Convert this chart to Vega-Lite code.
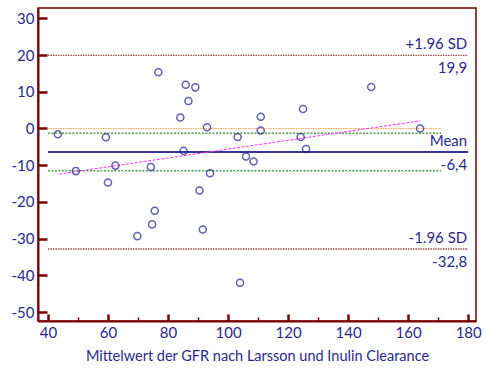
{
  "$schema": "https://vega.github.io/schema/vega-lite/v6.json",
  "width": 438,
  "height": 313,
  "autosize": "none",
  "padding": {"left": 38, "top": 8, "right": 10, "bottom": 47},
  "background": "white",
  "config": {
    "view": {"stroke": "#7a0000", "strokeWidth": 1.5},
    "font": "Lato",
    "axis": {
      "domainColor": "#7a0000",
      "domainWidth": 2,
      "tickColor": "#7a0000",
      "labelColor": "#2a2a8a",
      "labelFont": "Lato",
      "labelFontSize": 15,
      "labelOverlap": false,
      "titleColor": "#2a2a8a",
      "titleFont": "Lato",
      "titleFontSize": 14.5,
      "titleFontWeight": "normal",
      "grid": false,
      "zindex": 1
    },
    "axisY": {
      "values": [-50, -45, -40, -35, -30, -25, -20, -15, -10, -5, 0, 5, 10, 15, 20, 25, 30],
      "tickSize": {"expr": "datum.value % 10 === 0 ? -9 : -4"},
      "tickWidth": {"expr": "datum.value % 10 === 0 ? 2.5 : 1.5"},
      "labelPadding": 13,
      "labelExpr": "datum.value % 10 === 0 ? toString(datum.value) : ''",
      "title": null
    },
    "axisX": {
      "values": [40, 50, 60, 70, 80, 90, 100, 110, 120, 130, 140, 150, 160, 170, 180],
      "labelExpr": "datum.value % 20 === 0 ? toString(datum.value) : ''",
      "tickSize": {"expr": "datum.value % 20 === 0 ? -7 : -4"},
      "tickWidth": {"expr": "datum.value % 20 === 0 ? 2.5 : 1.5"},
      "labelPadding": 11,
      "titlePadding": 6
    }
  },
  "layer": [
    {
      "data": {"values": [{"label": "+1.96 SD", "y": 19.9, "x1": 40, "x2": 180}, {"label": "-1.96 SD", "y": -32.8, "x1": 40, "x2": 180}]},
      "mark": {"type": "rule", "color": "#a04848", "strokeWidth": 1.3, "strokeDash": [1.5, 1]},
      "encoding": {
        "x": {"field": "x1", "type": "quantitative",
          "scale": {"domain": [36.7, 182.6], "nice": false, "zero": false},
          "title": "Mittelwert der GFR nach Larsson und Inulin Clearance"},
        "x2": {"field": "x2"},
        "y": {"field": "y", "type": "quantitative",
          "scale": {"domain": [-52.4, 32.8], "nice": false, "zero": false}, "title": null}
      }
    },
    {
      "data": {"values": [{"y": 0, "x1": 40, "x2": 171}]},
      "mark": {"type": "rule", "color": "#ffa050", "strokeWidth": 1.2, "strokeDash": [1.5, 1]},
      "encoding": {"x": {"field": "x1", "type": "quantitative"}, "x2": {"field": "x2"}, "y": {"field": "y", "type": "quantitative"}}
    },
    {
      "data": {"values": [{"y": -1.3, "x1": 40, "x2": 171}, {"y": -11.5, "x1": 40, "x2": 171}]},
      "mark": {"type": "rule", "color": "#4f9a4f", "strokeWidth": 1.5, "strokeDash": [2, 1.5]},
      "encoding": {"x": {"field": "x1", "type": "quantitative"}, "x2": {"field": "x2"}, "y": {"field": "y", "type": "quantitative"}}
    },
    {
      "data": {"values": [{"y": -6.4, "x1": 40, "x2": 180}]},
      "mark": {"type": "rule", "color": "#34349a", "strokeWidth": 2},
      "encoding": {"x": {"field": "x1", "type": "quantitative"}, "x2": {"field": "x2"}, "y": {"field": "y", "type": "quantitative"}}
    },
    {
      "data": {"values": [{"x1": 43.7, "y1": -12.4, "x2": 164.1, "y2": 2.1}]},
      "mark": {"type": "rule", "color": "#ff33ff", "strokeWidth": 1, "strokeDash": [3, 1.5]},
      "encoding": {"x": {"field": "x1", "type": "quantitative"}, "x2": {"field": "x2"}, "y": {"field": "y1", "type": "quantitative"}, "y2": {"field": "y2"}}
    },
    {
      "data": {"values": [
        {"x": 43.3, "y": -1.55}, {"x": 49.3, "y": -11.6}, {"x": 59.3, "y": -2.4}, {"x": 60.0, "y": -14.7},
        {"x": 62.5, "y": -10.1}, {"x": 74.3, "y": -10.5}, {"x": 76.8, "y": 15.3}, {"x": 84.1, "y": 3.0},
        {"x": 85.9, "y": 11.9}, {"x": 89.1, "y": 11.2}, {"x": 86.8, "y": 7.5}, {"x": 85.2, "y": -6.1},
        {"x": 93.0, "y": 0.35}, {"x": 94.0, "y": -12.2}, {"x": 103.2, "y": -2.3}, {"x": 106.0, "y": -7.6},
        {"x": 108.5, "y": -9.0}, {"x": 110.9, "y": 3.2}, {"x": 110.9, "y": -0.55}, {"x": 125.0, "y": 5.3},
        {"x": 124.2, "y": -2.3}, {"x": 126.0, "y": -5.6}, {"x": 147.7, "y": 11.3}, {"x": 164.0, "y": 0.0},
        {"x": 75.6, "y": -22.4}, {"x": 74.7, "y": -26.1}, {"x": 69.8, "y": -29.3}, {"x": 90.5, "y": -16.9},
        {"x": 91.6, "y": -27.5}, {"x": 104.0, "y": -42.0}
      ]},
      "mark": {"type": "point", "shape": "circle", "filled": false, "color": "#1f1f90", "size": 50, "strokeWidth": 1.5},
      "encoding": {"x": {"field": "x", "type": "quantitative"}, "y": {"field": "y", "type": "quantitative"}}
    },
    {
      "data": {"values": [{"name": "+1.96 SD", "value": 19.9, "valueLabel": "19,9", "x": 180}, {"name": "Mean", "value": -6.4, "valueLabel": "-6,4", "x": 180}, {"name": "-1.96 SD", "value": -32.8, "valueLabel": "-32,8", "x": 180}]},
      "layer": [
        {
          "mark": {"type": "text", "align": "right", "baseline": "middle", "dx": -1, "dy": -11, "fontSize": 15, "color": "#2a2a8a", "font": "Lato"},
          "encoding": {"x": {"field": "x", "type": "quantitative"}, "y": {"field": "value", "type": "quantitative"}, "text": {"field": "name"}}
        },
        {
          "mark": {"type": "text", "align": "right", "baseline": "middle", "dx": -1, "dy": 13, "fontSize": 15, "color": "#2a2a8a", "font": "Lato"},
          "encoding": {"x": {"field": "x", "type": "quantitative"}, "y": {"field": "value", "type": "quantitative"}, "text": {"field": "valueLabel"}}
        }
      ]
    }
  ]
}
